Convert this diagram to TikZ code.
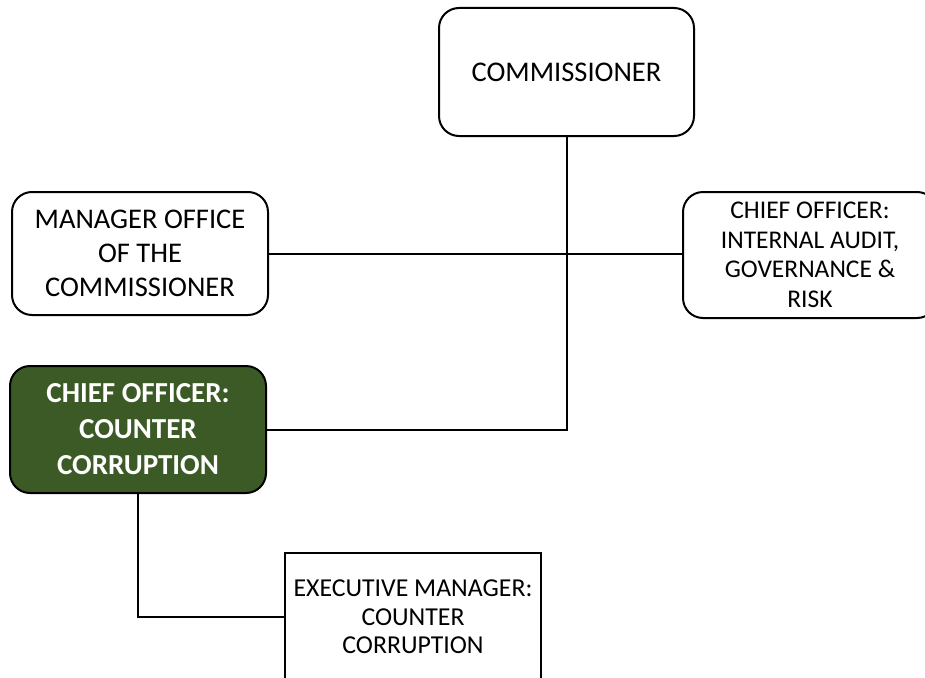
\documentclass[tikz,border=0pt]{standalone}
\usepackage{fontspec}
\setmainfont{Carlito}
\definecolor{darkgreen}{HTML}{3C5A26}
\begin{document}
\begin{tikzpicture}[x=1pt,y=1pt,
  box/.style={draw=black,line width=2pt,rounded corners=20pt,fill=white,align=center,inner sep=0pt},
  conn/.style={draw=black,line width=2pt}]
\useasboundingbox (0,0) rectangle (925,-677);
\node[box,minimum width=255,minimum height=128,font=\fontsize{28.5}{35}\selectfont] (comm) at (566.5,-72) {COMMISSIONER};
\node[box,minimum width=256,minimum height=123,font=\fontsize{28.5}{34}\selectfont] (mgr) at (140,-253.5) {MANAGER OFFICE\\OF THE\\COMMISSIONER};
\node[box,minimum width=254,minimum height=126,font=\fontsize{25.5}{29.5}\selectfont] (ia) at (810,-255) {CHIEF OFFICER:\\INTERNAL AUDIT,\\GOVERNANCE \&\\RISK};
\node[box,fill=darkgreen,text=white,minimum width=256,minimum height=127,font=\fontsize{29}{36}\selectfont\bfseries] (cocc) at (138,-429.5) {CHIEF OFFICER:\\COUNTER\\CORRUPTION};
\node[box,rounded corners=0pt,minimum width=256,minimum height=128,font=\fontsize{25.8}{28.5}\selectfont] (exec) at (413,-617) {EXECUTIVE MANAGER:\\COUNTER\\CORRUPTION};
\draw[conn] (comm.south) |- (cocc.east);
\draw[conn] (mgr.east) -- (mgr.east -| ia.west);
\draw[conn] (cocc.south) |- (exec.west);
\end{tikzpicture}
\end{document}
